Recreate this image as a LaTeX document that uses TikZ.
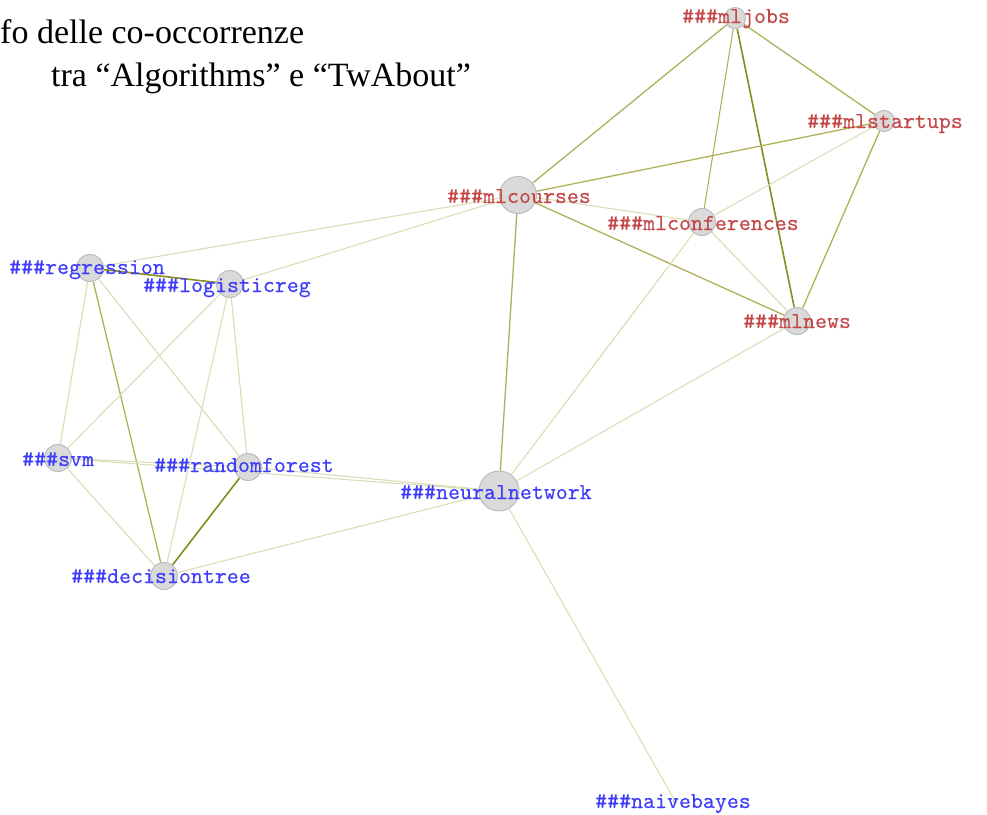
\documentclass[tikz,border=0pt]{standalone}
\usepackage{fontspec}
\setmainfont{Liberation Serif}
\newfontfamily\tagfont{lmmono10-regular.otf}[FakeBold=0.35]
\usetikzlibrary{backgrounds}

\definecolor{tagred}{RGB}{196,72,72}
\definecolor{tagblue}{RGB}{62,62,250}
\definecolor{edgedark}{RGB}{138,138,30}
\definecolor{edgemid}{RGB}{176,176,88}
\definecolor{edgelight}{RGB}{220,220,182}
\definecolor{hubfill}{RGB}{218,218,218}
\definecolor{hubline}{RGB}{188,188,188}

\begin{document}
\begin{tikzpicture}[x=1pt,y=-1pt,
  hub/.style={circle,fill=hubfill,draw=hubline,line width=1pt,inner sep=0pt,minimum size=#1},
  tag/.style={font=\tagfont\fontsize{22.8}{24}\selectfont,inner sep=0pt,anchor=base west},
  redtag/.style={tag,text=tagred},
  bluetag/.style={tag,text=tagblue},
  strong/.style={draw=edgedark,line width=1.6pt},
  medium/.style={draw=edgemid,line width=1.3pt},
  weak/.style={draw=edgelight,line width=1.1pt},
  titletext/.style={font=\fontsize{34}{40}\selectfont,inner sep=0pt}]

\path[use as bounding box] (0,0) rectangle (987,814);

% title
\node[titletext,anchor=base west] (title1) at (0,43) {fo delle co-occorrenze};
\node[titletext,anchor=base west] (title2) at (51,86) {tra “Algorithms” e “TwAbout”};

% hashtag nodes
\node[hub=21pt] (mljobs) at (735,18) {};
\node[hub=21pt] (mlstartups) at (884,121) {};
\node[hub=37pt] (mlcourses) at (518,195) {};
\node[hub=27pt] (mlconferences) at (702,222) {};
\node[hub=27pt] (mlnews) at (797,321) {};
\node[hub=27pt] (regression) at (90,268) {};
\node[hub=27pt] (logisticreg) at (230,284) {};
\node[hub=27pt] (svm) at (58,458) {};
\node[hub=27pt] (randomforest) at (248,467) {};
\node[hub=27pt] (decisiontree) at (164,576) {};
\node[hub=40pt] (neuralnetwork) at (499,491) {};
\node[hub=4pt,line width=0.6pt] (naivebayes) at (675,801) {};

% co-occurrence links
\begin{pgfonlayer}{background}
  \draw[strong] (mljobs) -- (mlnews);
  \draw[strong] (regression) -- (logisticreg);
  \draw[strong] (randomforest) -- (decisiontree);
  \draw[medium] (mljobs) -- (mlcourses);
  \draw[medium] (mljobs) -- (mlstartups);
  \draw[medium] (mlcourses) -- (mlstartups);
  \draw[medium] (mlcourses) -- (mlnews);
  \draw[medium] (mlstartups) -- (mlnews);
  \draw[medium] (mlcourses) -- (neuralnetwork);
  \draw[medium] (regression) -- (decisiontree);
  \draw[medium,line width=1.1pt] (mljobs) -- (mlconferences);
  \draw[weak] (mlstartups) -- (mlconferences);
  \draw[weak] (mlcourses) -- (mlconferences);
  \draw[weak] (mlconferences) -- (mlnews);
  \draw[weak] (mlconferences) -- (neuralnetwork);
  \draw[weak] (mlnews) -- (neuralnetwork);
  \draw[weak] (mlcourses) -- (regression);
  \draw[weak] (mlcourses) -- (logisticreg);
  \draw[weak] (regression) -- (svm);
  \draw[weak] (regression) -- (randomforest);
  \draw[weak] (logisticreg) -- (svm);
  \draw[weak] (logisticreg) -- (decisiontree);
  \draw[weak] (logisticreg) -- (randomforest);
  \draw[weak] (svm) -- (randomforest);
  \draw[weak] (svm) -- (neuralnetwork);
  \draw[weak] (svm) -- (decisiontree);
  \draw[weak] (randomforest) -- (neuralnetwork);
  \draw[weak] (decisiontree) -- (neuralnetwork);
  \draw[weak] (neuralnetwork) -- (naivebayes);
\end{pgfonlayer}

% hashtag labels
\node[redtag] (lmljobs) at (682,23) {\#\#\#mljobs};
\node[redtag] (lmlstartups) at (807,128) {\#\#\#mlstartups};
\node[redtag] (lmlcourses) at (447,203) {\#\#\#mlcourses};
\node[redtag] (lmlconferences) at (607,230) {\#\#\#mlconferences};
\node[redtag] (lmlnews) at (743,328) {\#\#\#mlnews};
\node[bluetag] (lregression) at (9,274) {\#\#\#regression};
\node[bluetag] (llogisticreg) at (143,292) {\#\#\#logisticreg};
\node[bluetag] (lsvm) at (22,466) {\#\#\#svm};
\node[bluetag] (lrandomforest) at (154,472) {\#\#\#randomforest};
\node[bluetag] (ldecisiontree) at (71,583) {\#\#\#decisiontree};
\node[bluetag] (lneuralnetwork) at (400,499) {\#\#\#neuralnetwork};
\node[bluetag] (lnaivebayes) at (595,808) {\#\#\#naivebayes};
\end{tikzpicture}
\end{document}
